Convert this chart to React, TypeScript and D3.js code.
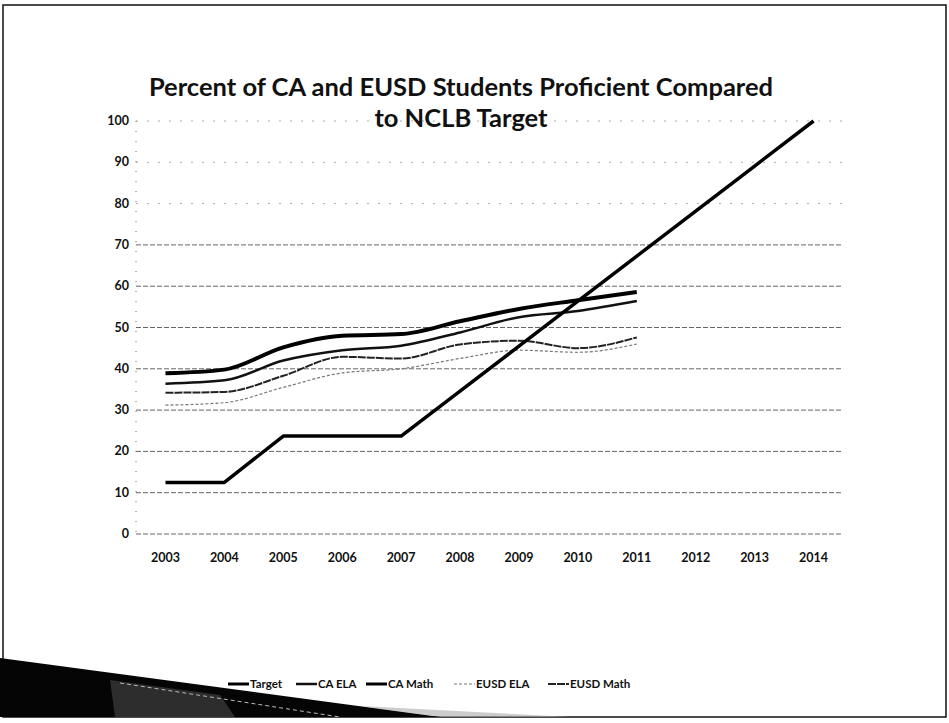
import React, { useRef, useEffect } from "react";
import * as d3 from "d3";

const years = ["2003", "2004", "2005", "2006", "2007", "2008", "2009", "2010", "2011", "2012", "2013", "2014"];
const target = [12.5, 12.5, 23.7, 23.7, 23.7, 34.6, 45.5, 56.4, 67.3, 78.2, 89.1, 100];
const caEla = [36.4, 37.2, 42, 44.5, 45.6, 48.8, 52.5, 54, 56.4];
const caMath = [38.9, 39.8, 45.2, 48, 48.4, 51.5, 54.5, 56.6, 58.6];
const eusdEla = [31.2, 31.8, 35.5, 39, 40, 42.5, 44.5, 44, 46];
const eusdMath = [34.2, 34.4, 38.3, 42.9, 42.5, 45.9, 46.8, 45, 47.6];
const yTicks = [0, 10, 20, 30, 40, 50, 60, 70, 80, 90, 100];
const seriesNames = ["Target", "CA ELA", "CA Math", "EUSD ELA", "EUSD Math"];

export default function App() {
    const ref = useRef<SVGSVGElement | null>(null);

    useEffect(() => {
        const width = 949;
        const height = 723;
        const font = "Lato, 'Open Sans', sans-serif";

        d3.select(ref.current).selectAll("*").remove();
        const svg = d3.select(ref.current).attr("width", width).attr("height", height);

        svg.append("rect").attr("width", width).attr("height", height).attr("fill", "#fff");

        // scanned slide frame
        svg.append("rect")
            .attr("x", 3).attr("y", 5).attr("width", 943).attr("height", 712)
            .attr("fill", "none").attr("stroke", "#111").attr("stroke-width", 1.5);

        // dark wedge at the bottom left of the slide
        svg.append("polygon")
            .attr("points", "360,706 570,717 440,717")
            .attr("fill", "#aaa").attr("opacity", 0.6);
        svg.append("polygon")
            .attr("points", "0,658 440,717 0,717")
            .attr("fill", "#050505");
        svg.append("polygon")
            .attr("points", "110,680 220,695 235,717 115,717")
            .attr("fill", "#555").attr("opacity", 0.5);
        svg.append("line")
            .attr("x1", 120).attr("y1", 683).attr("x2", 340).attr("y2", 717)
            .attr("stroke", "#bbb").attr("stroke-width", 1).attr("stroke-dasharray", "4 3");

        const x = d3.scaleBand().domain(years).range([136, 843]);
        const y = d3.scaleLinear().domain([0, 100]).range([534, 121]);
        const cx = (i: number) => (x(years[i]) as number) + x.bandwidth() / 2;

        // gridlines
        svg.append("g").selectAll("line")
            .data(yTicks)
            .enter()
            .append("line")
            .attr("x1", 136).attr("x2", 843)
            .attr("y1", (d) => y(d)).attr("y2", (d) => y(d))
            .attr("stroke", (d) => (d >= 80 ? "#aaa" : "#666"))
            .attr("stroke-width", 1)
            .attr("stroke-dasharray", (d) => (d >= 80 ? "2 9" : "5 2"));

        // y axis (dotted)
        svg.append("line")
            .attr("x1", 136).attr("x2", 136).attr("y1", 121).attr("y2", 534)
            .attr("stroke", "#666").attr("stroke-dasharray", "1 9");

        svg.append("g").selectAll("text")
            .data(yTicks)
            .enter()
            .append("text")
            .attr("x", 129).attr("y", (d) => y(d) + 4)
            .attr("text-anchor", "end")
            .attr("font-family", font).attr("font-weight", "bold").attr("font-size", 12.5)
            .attr("fill", "#111")
            .text((d) => d);

        svg.append("g").selectAll("text")
            .data(years)
            .enter()
            .append("text")
            .attr("x", (_, i) => cx(i)).attr("y", 562)
            .attr("text-anchor", "middle")
            .attr("font-family", font).attr("font-weight", "bold").attr("font-size", 12.5)
            .attr("fill", "#111")
            .text((d) => d);

        const styles = [
            { data: target, color: "#000", w: 3.5, dash: null, curve: d3.curveLinear },
            { data: caEla, color: "#111", w: 2.5, dash: null, curve: d3.curveMonotoneX },
            { data: caMath, color: "#000", w: 4, dash: null, curve: d3.curveMonotoneX },
            { data: eusdEla, color: "#777", w: 1.2, dash: "3 2", curve: d3.curveMonotoneX },
            { data: eusdMath, color: "#222", w: 2, dash: "8 1", curve: d3.curveMonotoneX },
        ];

        // draw light series first so the heavy ones sit on top
        [3, 4, 1, 2, 0].forEach((k) => {
            const s = styles[k];
            const line = d3.line<number>().x((_, i) => cx(i)).y((d) => y(d)).curve(s.curve);
            svg.append("path")
                .attr("d", line(s.data) as string)
                .attr("fill", "none")
                .attr("stroke", s.color)
                .attr("stroke-width", s.w)
                .attr("stroke-linejoin", "round")
                .attr("stroke-dasharray", s.dash);
        });

        // title
        const title = svg.append("text")
            .attr("text-anchor", "middle")
            .attr("font-family", font).attr("font-weight", "bold").attr("font-size", 25.5)
            .attr("fill", "#111");
        title.append("tspan").attr("x", 461).attr("y", 96).text("Percent of CA and EUSD Students Proficient Compared");
        title.append("tspan").attr("x", 461).attr("y", 127).text("to NCLB Target");

        // legend
        const legendX = [228, 296, 366, 454, 548];
        const lg = svg.append("g").selectAll("g")
            .data(seriesNames)
            .enter()
            .append("g")
            .attr("transform", (_, i) => `translate(${legendX[i]},684)`);
        lg.append("line")
            .attr("x1", 0).attr("x2", 21).attr("y1", 0).attr("y2", 0)
            .attr("stroke", (_, i) => styles[i].color)
            .attr("stroke-width", (_, i) => Math.min(styles[i].w, 3))
            .attr("stroke-dasharray", (_, i) => styles[i].dash);
        lg.append("text")
            .attr("x", 22).attr("y", 4)
            .attr("font-family", font).attr("font-weight", "bold").attr("font-size", 11.5)
            .attr("fill", "#111")
            .text((d) => d);
    }, []);

    return (
        <svg ref={ref} style={{ position: "absolute", left: 0, top: 0, display: "block" }}></svg>
    );
}
